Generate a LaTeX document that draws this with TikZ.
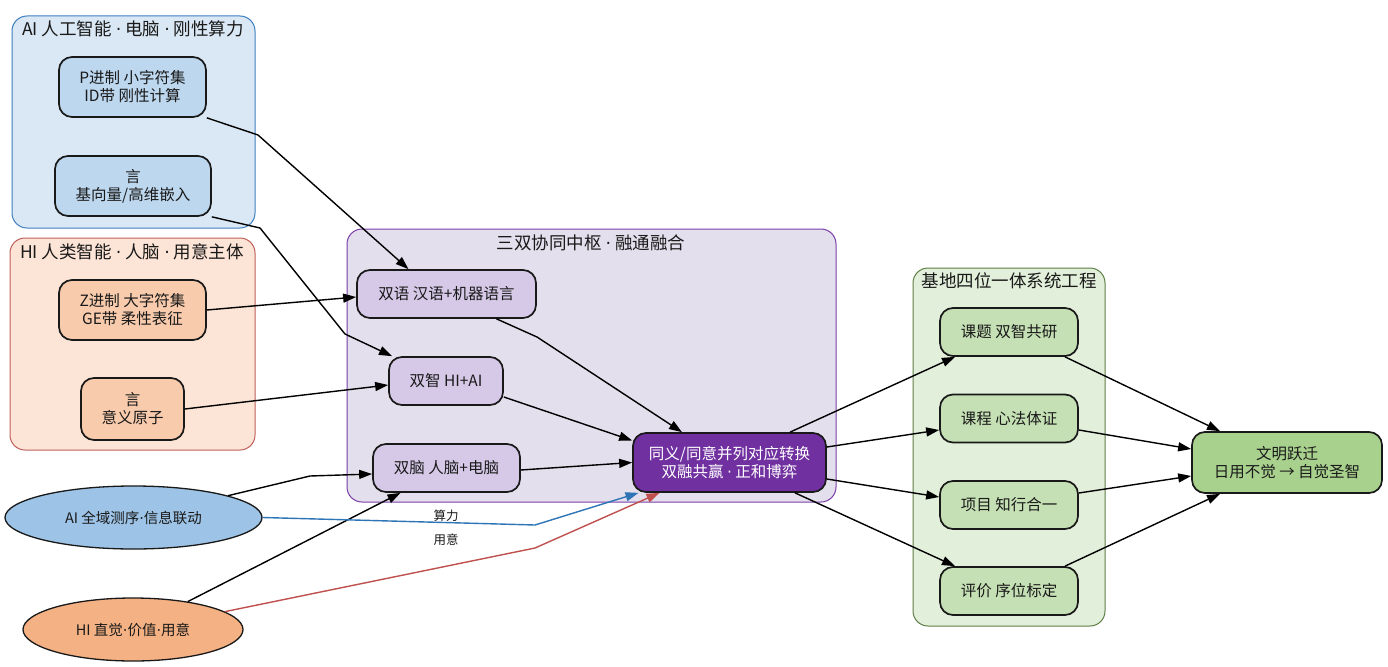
\documentclass[tikz,border=0pt]{standalone}
\usepackage{fontspec}
\setmainfont{Noto Sans CJK SC}
\newfontfamily\dotfont{DejaVu Sans}
\newcommand\mdot{{\dotfont ·}}
\usetikzlibrary{arrows.meta,shapes.geometric}

\definecolor{aiback}{HTML}{DAE8F5}
\definecolor{aiedge}{HTML}{3F7FBF}
\definecolor{ainode}{HTML}{BDD7EE}
\definecolor{hiback}{HTML}{FCE4D6}
\definecolor{hiedge}{HTML}{C0605A}
\definecolor{hinode}{HTML}{F8CBAD}
\definecolor{coreback}{HTML}{E4DFEC}
\definecolor{coreedge}{HTML}{7A3FA8}
\definecolor{corenode}{HTML}{D6C9E8}
\definecolor{hubfill}{HTML}{7030A0}
\definecolor{baseback}{HTML}{E2EFDA}
\definecolor{baseedge}{HTML}{5E7E45}
\definecolor{basenode}{HTML}{C5E0B4}
\definecolor{leapfill}{HTML}{A9D18E}
\definecolor{aioval}{HTML}{9DC3E6}
\definecolor{hioval}{HTML}{F4B183}
\definecolor{calcline}{HTML}{2E75B6}
\definecolor{intentline}{HTML}{C0504D}

\begin{document}
\begin{tikzpicture}[x=1pt,y=-1pt,
  every node/.style={font=\fontsize{15.5}{18}\selectfont,text=black!90,align=center},
  box/.style={draw=black!90,line width=1.7pt,rounded corners=13pt,minimum height=48pt,inner sep=0pt},
  cluster/.style={line width=1pt,rounded corners=15pt},
  ctitle/.style={font=\fontsize{17.5}{20}\selectfont},
  edge/.style={-{Triangle[length=13pt,width=9pt]},line width=1.4pt,black},
  elabel/.style={font=\fontsize{12.5}{14}\selectfont},
  oval/.style={ellipse,draw=black!90,line width=1.3pt,inner sep=0pt,font=\fontsize{14.5}{16}\selectfont}]
  \fill[white] (0,0) rectangle (1388,666);
  \useasboundingbox (0,0) rectangle (1388,666);

  % clusters
  \draw[cluster,draw=aiedge,fill=aiback] (12,16) rectangle (255,228);
  \node[ctitle] (aititle) at (133,29) {AI 人工智能 \mdot{} 电脑 \mdot{} 刚性算力};
  \draw[cluster,draw=hiedge,fill=hiback] (10,238) rectangle (255,450);
  \node[ctitle] (hititle) at (132,252) {HI 人类智能 \mdot{} 人脑 \mdot{} 用意主体};
  \draw[cluster,draw=coreedge,fill=coreback] (347,229) rectangle (836,502);
  \node[ctitle] (coretitle) at (591,243) {三双协同中枢 \mdot{} 融通融合};
  \draw[cluster,draw=baseedge,fill=baseback] (913,268) rectangle (1105,626);
  \node[ctitle] (basetitle) at (1009,281) {基地四位一体系统工程};

  % AI / HI nodes
  \node[box,fill=ainode,minimum width=147pt,minimum height=60pt] (pbase) at (132.5,87) {P进制 小字符集\\ID带 刚性计算};
  \node[box,fill=ainode,minimum width=156pt,minimum height=60pt] (aiyan) at (133,186) {言\\基向量/高维嵌入};
  \node[box,fill=hinode,minimum width=147pt,minimum height=60pt] (zbase) at (132.5,310) {Z进制 大字符集\\GE带 柔性表征};
  \node[box,fill=hinode,minimum width=103pt,minimum height=62pt] (hiyan) at (132.5,409) {言\\意义原子};
  \node[oval,fill=aioval,minimum width=257pt,minimum height=63pt] (aiall) at (133.5,517.5) {AI 全域测序\mdot{}信息联动};
  \node[oval,fill=hioval,minimum width=220pt,minimum height=63pt] (hiint) at (133,629.5) {HI 直觉\mdot{}价值\mdot{}用意};

  % core nodes
  \node[box,fill=corenode,minimum width=179pt] (shuangyu) at (446.5,294) {双语 汉语+机器语言};
  \node[box,fill=corenode,minimum width=114pt] (shuangzhi) at (446,381) {双智 HI+AI};
  \node[box,fill=corenode,minimum width=147pt] (shuangnao) at (446.5,468) {双脑 人脑+电脑};
  \node[box,fill=hubfill,text=white,minimum width=193pt,minimum height=59pt] (hub) at (729.5,462.5) {同义/同意并列对应转换\\双融共赢 \mdot{} 正和博弈};

  % base nodes
  \foreach \name/\y/\txt in {keti/332/课题 双智共研, kecheng/418.5/课程 心法体证,
                             xiangmu/505/项目 知行合一, pingjia/591/评价 序位标定}
    \node[box,fill=basenode,minimum width=138pt] (\name) at (1009,\y) {\txt};
  \node[box,fill=leapfill,minimum width=190pt,minimum height=61pt] (leap) at (1287,462.5) {文明跃迁\\日用不觉 → 自觉圣智};

  % into the core
  \draw[edge] (pbase.south east) -- (258,135) -- ([xshift=-38pt]shuangyu.north);
  \draw[edge] (aiyan.south east) -- (260,228) -- (345,334) -- ([xshift=-54pt]shuangzhi.north);
  \draw[edge] (zbase.east) -- ([yshift=-3pt]shuangyu.west);
  \draw[edge] (hiyan.east) -- ([yshift=-4pt]shuangzhi.west);
  \draw[edge] (aiall.13) -- (310,476) -- ([yshift=-6pt]shuangnao.west);
  \draw[edge] (hiint.27) -- ([xshift=-46pt]shuangnao.south);
  \draw[edge,calcline] (aiall.east) -- (535,525) -- ([xshift=-91pt]hub.south);
  \draw[edge,intentline] (hiint.11) -- (535,548) -- ([xshift=-70pt]hub.south);
  \node[elabel] (suanli) at (446,516) {算力};
  \node[elabel] (yongyi) at (446,540) {用意};

  % core to hub
  \draw[edge] ([xshift=50pt]shuangyu.south) -- (537,337) -- ([xshift=-47.5pt]hub.north);
  \draw[edge] ([yshift=-16pt]shuangzhi.east) -- ([yshift=22pt]hub.west);
  \draw[edge] ([yshift=-2pt]shuangnao.east) -- (hub.west);

  % hub to base, base to leap
  \draw[edge] ([xshift=60.5pt]hub.north) -- ([xshift=-54pt]keti.south);
  \draw[edge] ([yshift=15.5pt]hub.east) -- ([yshift=-11.5pt]kecheng.west);
  \draw[edge] ([yshift=-16.5pt]hub.east) -- ([yshift=8pt]xiangmu.west);
  \draw[edge] ([xshift=65.5pt]hub.south) -- ([xshift=-54pt]pingjia.north);
  \draw[edge] ([xshift=56pt]keti.south) -- ([xshift=-67pt]leap.north);
  \draw[edge] ([yshift=-11.5pt]kecheng.east) -- ([yshift=13.5pt]leap.west);
  \draw[edge] ([yshift=12pt]xiangmu.east) -- ([yshift=-13.5pt]leap.west);
  \draw[edge] ([xshift=56pt]pingjia.north) -- ([xshift=-67pt]leap.south);
\end{tikzpicture}
\end{document}
